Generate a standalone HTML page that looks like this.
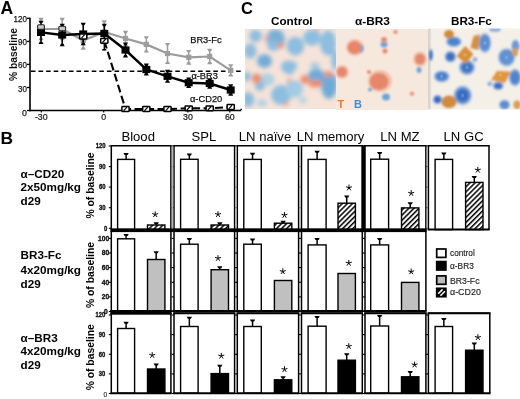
<!DOCTYPE html>
<html><head><meta charset="utf-8"><style>
html,body{margin:0;padding:0;background:#fff;}
body{width:520px;height:399px;overflow:hidden;}
svg{display:block;font-family:"Liberation Sans", sans-serif;will-change:transform;}
</style></head><body>
<svg width="520" height="399" viewBox="0 0 520 399">
<defs>
<pattern id="hatch" patternUnits="userSpaceOnUse" width="3.6" height="3.6" patternTransform="rotate(45)">
<rect width="3.6" height="3.6" fill="#fff"/><rect width="1.5" height="3.6" fill="#000"/></pattern>
<filter id="blurA" x="-20%" y="-20%" width="140%" height="140%"><feGaussianBlur stdDeviation="2"/></filter>
<filter id="blurB" x="-20%" y="-20%" width="140%" height="140%"><feGaussianBlur stdDeviation="1.3"/></filter>
<filter id="blurC" x="-20%" y="-20%" width="140%" height="140%"><feGaussianBlur stdDeviation="1"/></filter>
</defs>
<rect width="520" height="399" fill="#fff"/>
<text x="0.6" y="13.8" font-size="17.5" font-weight="bold">A</text>
<line x1="30" y1="17.8" x2="30" y2="111.2" stroke="#000" stroke-width="1.6"/>
<line x1="27" y1="110.5" x2="30" y2="110.5" stroke="#000" stroke-width="1.3"/>
<text x="26.9" y="116.1" font-size="9.6" text-anchor="end" fill="#111" stroke="#111" stroke-width="0.25" textLength="4.9" lengthAdjust="spacingAndGlyphs">0</text>
<line x1="27" y1="87.5" x2="30" y2="87.5" stroke="#000" stroke-width="1.3"/>
<text x="26.9" y="91.5" font-size="9.4" text-anchor="end" fill="#111" stroke="#111" stroke-width="0.25" textLength="8.9" lengthAdjust="spacingAndGlyphs">30</text>
<line x1="27" y1="64.4" x2="30" y2="64.4" stroke="#000" stroke-width="1.3"/>
<text x="26.9" y="68.4" font-size="9.4" text-anchor="end" fill="#111" stroke="#111" stroke-width="0.25" textLength="8.9" lengthAdjust="spacingAndGlyphs">60</text>
<line x1="27" y1="41.4" x2="30" y2="41.4" stroke="#000" stroke-width="1.3"/>
<text x="26.9" y="45.4" font-size="9.4" text-anchor="end" fill="#111" stroke="#111" stroke-width="0.25" textLength="8.9" lengthAdjust="spacingAndGlyphs">90</text>
<line x1="27" y1="18.3" x2="30" y2="18.3" stroke="#000" stroke-width="1.3"/>
<text x="26.9" y="22.3" font-size="9.4" text-anchor="end" fill="#111" stroke="#111" stroke-width="0.25" textLength="13.4" lengthAdjust="spacingAndGlyphs">120</text>
<text transform="translate(16.5,54.5) rotate(-90)" font-size="10.8" font-weight="bold" text-anchor="middle" fill="#111" textLength="53" lengthAdjust="spacingAndGlyphs">% baseline</text>
<line x1="29.2" y1="110.5" x2="241" y2="110.5" stroke="#000" stroke-width="1.6"/>
<line x1="41.3" y1="110.5" x2="41.3" y2="112.5" stroke="#000" stroke-width="1.2"/>
<text x="41.3" y="119.6" font-size="8.8" text-anchor="middle" fill="#111" stroke="#111" stroke-width="0.2">-30</text>
<line x1="103.7" y1="110.5" x2="103.7" y2="112.5" stroke="#000" stroke-width="1.2"/>
<text x="103.7" y="119.6" font-size="8.8" text-anchor="middle" fill="#111" stroke="#111" stroke-width="0.2">0</text>
<line x1="188" y1="110.5" x2="188" y2="112.5" stroke="#000" stroke-width="1.2"/>
<text x="188" y="119.6" font-size="8.8" text-anchor="middle" fill="#111" stroke="#111" stroke-width="0.2">30</text>
<line x1="229.8" y1="110.5" x2="229.8" y2="112.5" stroke="#000" stroke-width="1.2"/>
<text x="229.8" y="119.6" font-size="8.8" text-anchor="middle" fill="#111" stroke="#111" stroke-width="0.2">60</text>
<line x1="30.9" y1="71.2" x2="241" y2="71.2" stroke="#000" stroke-width="1.6" stroke-dasharray="4.6 3"/>
<polyline points="104.3,40.8 125.5,109 146.3,109 167.5,109 188.7,108.3 209.7,108.3 230.7,107" fill="none" stroke="#000" stroke-width="2.1" stroke-dasharray="8 3.5"/>
<polyline points="41,29 62.2,29 83.2,40.5 104.3,32 125.5,38.5 146.3,44.4 167.5,53.5 188.7,57.3 209.7,56.5 230.7,70.4" fill="none" stroke="#9c9c9c" stroke-width="2.2"/>
<line x1="41" y1="19" x2="41" y2="39" stroke="#9c9c9c" stroke-width="1.5"/>
<path d="M38.4,17.8 H43.6 L42.3,20.2 H39.7 Z" fill="#9c9c9c"/>
<path d="M38.4,40.2 H43.6 L42.3,37.8 H39.7 Z" fill="#9c9c9c"/>
<rect x="38.4" y="26.4" width="5.2" height="5.2" fill="#9c9c9c"/>
<line x1="62.2" y1="19" x2="62.2" y2="39" stroke="#9c9c9c" stroke-width="1.5"/>
<path d="M59.6,17.8 H64.8 L63.5,20.2 H60.900000000000006 Z" fill="#9c9c9c"/>
<path d="M59.6,40.2 H64.8 L63.5,37.8 H60.900000000000006 Z" fill="#9c9c9c"/>
<rect x="59.6" y="26.4" width="5.2" height="5.2" fill="#9c9c9c"/>
<line x1="83.2" y1="32.5" x2="83.2" y2="48.5" stroke="#9c9c9c" stroke-width="1.5"/>
<path d="M80.60000000000001,31.3 H85.8 L84.5,33.7 H81.9 Z" fill="#9c9c9c"/>
<path d="M80.60000000000001,49.7 H85.8 L84.5,47.3 H81.9 Z" fill="#9c9c9c"/>
<rect x="80.60000000000001" y="37.9" width="5.2" height="5.2" fill="#9c9c9c"/>
<line x1="104.3" y1="21.5" x2="104.3" y2="42.5" stroke="#9c9c9c" stroke-width="1.5"/>
<path d="M101.7,20.3 H106.89999999999999 L105.6,22.7 H103.0 Z" fill="#9c9c9c"/>
<path d="M101.7,43.7 H106.89999999999999 L105.6,41.3 H103.0 Z" fill="#9c9c9c"/>
<rect x="101.7" y="29.4" width="5.2" height="5.2" fill="#9c9c9c"/>
<line x1="125.5" y1="32.0" x2="125.5" y2="45.0" stroke="#9c9c9c" stroke-width="1.5"/>
<path d="M122.9,30.8 H128.1 L126.8,33.2 H124.2 Z" fill="#9c9c9c"/>
<path d="M122.9,46.2 H128.1 L126.8,43.8 H124.2 Z" fill="#9c9c9c"/>
<rect x="122.9" y="35.9" width="5.2" height="5.2" fill="#9c9c9c"/>
<line x1="146.3" y1="37.4" x2="146.3" y2="51.4" stroke="#9c9c9c" stroke-width="1.5"/>
<path d="M143.70000000000002,36.199999999999996 H148.9 L147.60000000000002,38.6 H145.0 Z" fill="#9c9c9c"/>
<path d="M143.70000000000002,52.6 H148.9 L147.60000000000002,50.199999999999996 H145.0 Z" fill="#9c9c9c"/>
<rect x="143.70000000000002" y="41.8" width="5.2" height="5.2" fill="#9c9c9c"/>
<line x1="167.5" y1="44.1" x2="167.5" y2="62.9" stroke="#9c9c9c" stroke-width="1.5"/>
<path d="M164.9,42.9 H170.1 L168.8,45.300000000000004 H166.2 Z" fill="#9c9c9c"/>
<path d="M164.9,64.1 H170.1 L168.8,61.699999999999996 H166.2 Z" fill="#9c9c9c"/>
<rect x="164.9" y="50.9" width="5.2" height="5.2" fill="#9c9c9c"/>
<line x1="188.7" y1="51.099999999999994" x2="188.7" y2="63.5" stroke="#9c9c9c" stroke-width="1.5"/>
<path d="M186.1,49.89999999999999 H191.29999999999998 L190.0,52.3 H187.39999999999998 Z" fill="#9c9c9c"/>
<path d="M186.1,64.7 H191.29999999999998 L190.0,62.3 H187.39999999999998 Z" fill="#9c9c9c"/>
<rect x="186.1" y="54.699999999999996" width="5.2" height="5.2" fill="#9c9c9c"/>
<line x1="209.7" y1="50.0" x2="209.7" y2="63.0" stroke="#9c9c9c" stroke-width="1.5"/>
<path d="M207.1,48.8 H212.29999999999998 L211.0,51.2 H208.39999999999998 Z" fill="#9c9c9c"/>
<path d="M207.1,64.2 H212.29999999999998 L211.0,61.8 H208.39999999999998 Z" fill="#9c9c9c"/>
<rect x="207.1" y="53.9" width="5.2" height="5.2" fill="#9c9c9c"/>
<line x1="230.7" y1="65.4" x2="230.7" y2="75.4" stroke="#9c9c9c" stroke-width="1.5"/>
<path d="M228.1,64.2 H233.29999999999998 L232.0,66.60000000000001 H229.39999999999998 Z" fill="#9c9c9c"/>
<path d="M228.1,76.60000000000001 H233.29999999999998 L232.0,74.2 H229.39999999999998 Z" fill="#9c9c9c"/>
<rect x="228.1" y="67.80000000000001" width="5.2" height="5.2" fill="#9c9c9c"/>
<polyline points="41,32.4 62.2,35 83.2,34 104.3,33.5 125.5,50 146.3,69.5 167.5,76.3 188.7,82.7 209.7,83.5 230.7,90" fill="none" stroke="#000" stroke-width="2.4"/>
<line x1="41" y1="21.9" x2="41" y2="42.9" stroke="#000" stroke-width="1.6"/>
<path d="M38.5,20.7 H43.5 L42.3,23.099999999999998 H39.7 Z" fill="#000"/>
<path d="M38.5,44.1 H43.5 L42.3,41.699999999999996 H39.7 Z" fill="#000"/>
<rect x="37" y="28.799999999999997" width="8" height="7.2" fill="#000"/>
<line x1="62.2" y1="25" x2="62.2" y2="45" stroke="#000" stroke-width="1.6"/>
<path d="M59.7,23.8 H64.7 L63.5,26.2 H60.900000000000006 Z" fill="#000"/>
<path d="M59.7,46.2 H64.7 L63.5,43.8 H60.900000000000006 Z" fill="#000"/>
<rect x="58.2" y="31.4" width="8" height="7.2" fill="#000"/>
<line x1="83.2" y1="24" x2="83.2" y2="44" stroke="#000" stroke-width="1.6"/>
<path d="M80.7,22.8 H85.7 L84.5,25.2 H81.9 Z" fill="#000"/>
<path d="M80.7,45.2 H85.7 L84.5,42.8 H81.9 Z" fill="#000"/>
<rect x="79.2" y="30.4" width="8" height="7.2" fill="#000"/>
<line x1="104.3" y1="25.0" x2="104.3" y2="42.0" stroke="#000" stroke-width="1.6"/>
<path d="M101.8,23.8 H106.8 L105.6,26.2 H103.0 Z" fill="#000"/>
<path d="M101.8,43.2 H106.8 L105.6,40.8 H103.0 Z" fill="#000"/>
<rect x="100.3" y="29.9" width="8" height="7.2" fill="#000"/>
<line x1="125.5" y1="43.7" x2="125.5" y2="56.3" stroke="#000" stroke-width="1.6"/>
<path d="M123.0,42.5 H128.0 L126.8,44.900000000000006 H124.2 Z" fill="#000"/>
<path d="M123.0,57.5 H128.0 L126.8,55.099999999999994 H124.2 Z" fill="#000"/>
<rect x="121.5" y="46.4" width="8" height="7.2" fill="#000"/>
<line x1="146.3" y1="64.8" x2="146.3" y2="74.2" stroke="#000" stroke-width="1.6"/>
<path d="M143.8,63.599999999999994 H148.8 L147.60000000000002,66.0 H145.0 Z" fill="#000"/>
<path d="M143.8,75.4 H148.8 L147.60000000000002,73.0 H145.0 Z" fill="#000"/>
<rect x="142.3" y="65.9" width="8" height="7.2" fill="#000"/>
<line x1="167.5" y1="71.0" x2="167.5" y2="81.6" stroke="#000" stroke-width="1.6"/>
<path d="M165.0,69.8 H170.0 L168.8,72.2 H166.2 Z" fill="#000"/>
<path d="M165.0,82.8 H170.0 L168.8,80.39999999999999 H166.2 Z" fill="#000"/>
<rect x="163.5" y="72.7" width="8" height="7.2" fill="#000"/>
<line x1="188.7" y1="78.7" x2="188.7" y2="86.7" stroke="#000" stroke-width="1.6"/>
<path d="M186.2,77.5 H191.2 L190.0,79.9 H187.39999999999998 Z" fill="#000"/>
<path d="M186.2,87.9 H191.2 L190.0,85.5 H187.39999999999998 Z" fill="#000"/>
<rect x="184.7" y="79.10000000000001" width="8" height="7.2" fill="#000"/>
<line x1="209.7" y1="79.5" x2="209.7" y2="87.5" stroke="#000" stroke-width="1.6"/>
<path d="M207.2,78.3 H212.2 L211.0,80.7 H208.39999999999998 Z" fill="#000"/>
<path d="M207.2,88.7 H212.2 L211.0,86.3 H208.39999999999998 Z" fill="#000"/>
<rect x="205.7" y="79.9" width="8" height="7.2" fill="#000"/>
<line x1="230.7" y1="85.5" x2="230.7" y2="94.5" stroke="#000" stroke-width="1.6"/>
<path d="M228.2,84.3 H233.2 L232.0,86.7 H229.39999999999998 Z" fill="#000"/>
<path d="M228.2,95.7 H233.2 L232.0,93.3 H229.39999999999998 Z" fill="#000"/>
<rect x="226.7" y="86.4" width="8" height="7.2" fill="#000"/>
<rect x="37.6" y="24.8" width="6.8" height="4.4" rx="1.2" fill="#c8c8c8" stroke="#222" stroke-width="1.1"/>
<rect x="58.800000000000004" y="26.3" width="6.8" height="4.4" rx="1.2" fill="#c8c8c8" stroke="#222" stroke-width="1.1"/>
<rect x="79.60000000000001" y="34.1" width="7.2" height="4.8" rx="0.6" fill="#fff" stroke="#000" stroke-width="1.5"/>
<line x1="81.3" y1="38.3" x2="84.60000000000001" y2="34.7" stroke="#000" stroke-width="1.2"/>
<line x1="104.3" y1="40.8" x2="104.3" y2="49.8" stroke="#000" stroke-width="1.4"/>
<line x1="102.3" y1="49.8" x2="106.3" y2="49.8" stroke="#000" stroke-width="1.6"/>
<rect x="100.7" y="38.4" width="7.2" height="4.8" rx="0.6" fill="#fff" stroke="#000" stroke-width="1.5"/>
<line x1="102.39999999999999" y1="42.599999999999994" x2="105.7" y2="39.0" stroke="#000" stroke-width="1.2"/>
<rect x="121.9" y="106.6" width="7.2" height="4.8" rx="0.6" fill="#fff" stroke="#000" stroke-width="1.5"/>
<line x1="123.6" y1="110.8" x2="126.9" y2="107.2" stroke="#000" stroke-width="1.2"/>
<rect x="142.70000000000002" y="106.6" width="7.2" height="4.8" rx="0.6" fill="#fff" stroke="#000" stroke-width="1.5"/>
<line x1="144.4" y1="110.8" x2="147.70000000000002" y2="107.2" stroke="#000" stroke-width="1.2"/>
<rect x="163.9" y="106.6" width="7.2" height="4.8" rx="0.6" fill="#fff" stroke="#000" stroke-width="1.5"/>
<line x1="165.6" y1="110.8" x2="168.9" y2="107.2" stroke="#000" stroke-width="1.2"/>
<rect x="185.1" y="105.89999999999999" width="7.2" height="4.8" rx="0.6" fill="#fff" stroke="#000" stroke-width="1.5"/>
<line x1="186.79999999999998" y1="110.1" x2="190.1" y2="106.5" stroke="#000" stroke-width="1.2"/>
<rect x="206.1" y="105.89999999999999" width="7.2" height="4.8" rx="0.6" fill="#fff" stroke="#000" stroke-width="1.5"/>
<line x1="207.79999999999998" y1="110.1" x2="211.1" y2="106.5" stroke="#000" stroke-width="1.2"/>
<rect x="227.1" y="104.6" width="7.2" height="4.8" rx="0.6" fill="#fff" stroke="#000" stroke-width="1.5"/>
<line x1="228.79999999999998" y1="108.8" x2="232.1" y2="105.2" stroke="#000" stroke-width="1.2"/>
<text x="190.2" y="43.3" font-size="9.3" fill="#111" stroke="#111" stroke-width="0.25">BR3-Fc</text>
<text x="191.4" y="79.2" font-size="9.3" fill="#111" stroke="#111" stroke-width="0.25">α-BR3</text>
<text x="190" y="102.3" font-size="9.3" fill="#111" stroke="#111" stroke-width="0.25">α-CD20</text>
<circle cx="241.2" cy="109.4" r="0.9" fill="#222"/>
<text x="241" y="14.2" font-size="16.5" font-weight="bold">C</text>
<text x="291.8" y="25" font-size="11.7" font-weight="bold" text-anchor="middle">Control</text>
<text x="372.4" y="25" font-size="11.7" font-weight="bold" text-anchor="middle" textLength="35" lengthAdjust="spacingAndGlyphs">α-BR3</text>
<text x="471.4" y="25" font-size="11.7" font-weight="bold" text-anchor="middle">BR3-Fc</text>
<svg x="245" y="29" width="90.5" height="80" viewBox="245 29 90.5 80" overflow="hidden">
<rect x="245" y="29" width="91" height="80" fill="#f6e3d9"/>
<g filter="url(#blurA)">
<ellipse cx="255.6" cy="36" rx="6.25" ry="6.25" fill="#8cbee0" opacity="1"/>
<ellipse cx="275.6" cy="39" rx="9.375" ry="10.0" fill="#79b0d8" opacity="1"/>
<ellipse cx="273.5" cy="46" rx="6.25" ry="5.0" fill="#8cbee0" opacity="1"/>
<ellipse cx="250.3" cy="51" rx="6.25" ry="7.5" fill="#8cbee0" opacity="1"/>
<ellipse cx="264.5" cy="61" rx="7.5" ry="6.875" fill="#72acd8" opacity="1"/>
<ellipse cx="287.5" cy="67" rx="6.5" ry="6.5" fill="#8cbee0" opacity="1"/>
<ellipse cx="295.4" cy="46" rx="8.75" ry="9.375" fill="#8cbee0" opacity="1"/>
<ellipse cx="312" cy="37.5" rx="8.75" ry="8.125" fill="#8cbee0" opacity="1"/>
<ellipse cx="328" cy="43" rx="8.125" ry="12.5" fill="#8cbee0" opacity="1"/>
<ellipse cx="292" cy="66" rx="5.0" ry="5.0" fill="#8cbee0" opacity="1"/>
<ellipse cx="315" cy="66" rx="5.0" ry="3.75" fill="#a9cde2" opacity="1"/>
<ellipse cx="247" cy="76.4" rx="3.75" ry="5.0" fill="#8cbee0" opacity="1"/>
<ellipse cx="267" cy="79.6" rx="7.5" ry="6.25" fill="#acd0e4" opacity="1"/>
<ellipse cx="259.8" cy="86" rx="5.0" ry="5.0" fill="#8cbee0" opacity="1"/>
<ellipse cx="248" cy="99.6" rx="6.25" ry="7.5" fill="#8cbee0" opacity="1"/>
<ellipse cx="281" cy="95" rx="10.0" ry="10.0" fill="#8cbee0" opacity="1"/>
<ellipse cx="289" cy="89" rx="3.75" ry="3.75" fill="#8cbee0" opacity="1"/>
<ellipse cx="316.4" cy="76.4" rx="8.75" ry="7.5" fill="#6eaad8" opacity="1"/>
<ellipse cx="329" cy="85" rx="8.125" ry="13.75" fill="#6eaad8" opacity="1"/>
<ellipse cx="294.3" cy="89" rx="8.75" ry="8.75" fill="#a3cbe3" opacity="1"/>
<ellipse cx="290" cy="71" rx="3.75" ry="3.75" fill="#8cbee0" opacity="1"/>
<ellipse cx="335" cy="60" rx="3.75" ry="10.0" fill="#8cbee0" opacity="1"/>
<ellipse cx="303" cy="100" rx="3.75" ry="3.75" fill="#b5d5e6" opacity="1"/>
<ellipse cx="262" cy="103" rx="5.0" ry="3.75" fill="#b0d2e6" opacity="1"/>
<ellipse cx="281" cy="45.5" rx="3" ry="3" fill="#eb8f68" opacity="1"/>
<ellipse cx="266" cy="38.5" rx="2" ry="3" fill="#efaa95" opacity="1"/>
<ellipse cx="317.5" cy="30" rx="2" ry="1.5" fill="#eb8f68" opacity="1"/>
<ellipse cx="256.6" cy="78.5" rx="5" ry="5" fill="#eb8f68" opacity="1"/>
<ellipse cx="289" cy="80.6" rx="2" ry="2" fill="#eb8f68" opacity="1"/>
<ellipse cx="286" cy="104" rx="2" ry="2" fill="#eb8f68" opacity="1"/>
<ellipse cx="304.8" cy="79.6" rx="4.5" ry="4.5" fill="#eb8f68" opacity="1"/>
<ellipse cx="315.4" cy="83.8" rx="7" ry="3.8" fill="#eb8f68" opacity="1"/>
<ellipse cx="328" cy="74.3" rx="4" ry="3" fill="#eb8f68" opacity="1"/>
</g></svg>
<svg x="336" y="29" width="92" height="80.5" viewBox="336 29 92 80.5" overflow="hidden">
<rect x="336" y="29" width="92" height="81" fill="#f7e8de"/>
<g filter="url(#blurB)">
<ellipse cx="355" cy="47.5" rx="9" ry="8.5" fill="#f1c2ac" opacity="1"/>
<ellipse cx="380" cy="81" rx="12" ry="11" fill="#f1c2ac" opacity="1"/>
<ellipse cx="342" cy="72" rx="7" ry="7" fill="#f1c2ac" opacity="1"/>
<ellipse cx="420" cy="59" rx="7" ry="7.5" fill="#f1c2ac" opacity="1"/>
<ellipse cx="360.6" cy="48.5" rx="3" ry="4" fill="#6aa6d8" opacity="1"/>
<ellipse cx="384" cy="44.4" rx="3.5" ry="3" fill="#6aa6d8" opacity="1"/>
<ellipse cx="419" cy="70" rx="2.5" ry="3" fill="#6aa6d8" opacity="1"/>
<ellipse cx="370" cy="89.6" rx="2" ry="2" fill="#6aa6d8" opacity="1"/>
<ellipse cx="386" cy="97" rx="4" ry="3.5" fill="#6aa6d8" opacity="1"/>
<ellipse cx="354.5" cy="47.5" rx="7" ry="6.5" fill="#e6866a" opacity="1"/>
<ellipse cx="384" cy="39.5" rx="3" ry="2.5" fill="#e6866a" opacity="1"/>
<ellipse cx="385" cy="51" rx="2.5" ry="2.5" fill="#e6866a" opacity="1"/>
<ellipse cx="395.5" cy="32" rx="2" ry="2" fill="#e6866a" opacity="1"/>
<ellipse cx="420" cy="59" rx="5" ry="5.5" fill="#e6866a" opacity="1"/>
<ellipse cx="342" cy="72" rx="5" ry="5" fill="#e6866a" opacity="1"/>
<ellipse cx="379" cy="81.4" rx="9.5" ry="8.5" fill="#e6866a" opacity="1"/>
<ellipse cx="412" cy="93.7" rx="2" ry="2" fill="#e6866a" opacity="1"/>
<ellipse cx="369" cy="72" rx="2" ry="2" fill="#e6866a" opacity="1"/>
</g>
<text x="337.6" y="108" font-size="11" font-weight="bold" fill="#ea7a30">T</text>
<text x="354" y="108" font-size="11" font-weight="bold" fill="#3b8ed6">B</text>
</svg>
<svg x="428" y="28.5" width="92" height="81" viewBox="428 28.5 92 81" overflow="hidden">
<rect x="428" y="28" width="92" height="82" fill="#f4efe7"/>
<rect x="428" y="28" width="2.2" height="82" fill="#c9c4bc" filter="url(#blurC)"/>
<g filter="url(#blurC)">
<ellipse cx="453.8" cy="41.7" rx="8.16" ry="5.3999999999999995" fill="#b3c8e6" opacity="1"/>
<ellipse cx="450.4" cy="56.7" rx="6.0" ry="6.0" fill="#b3c8e6" opacity="1"/>
<ellipse cx="430.8" cy="55" rx="2.4" ry="6.6" fill="#b3c8e6" opacity="1"/>
<ellipse cx="484.8" cy="43" rx="6.6" ry="10.2" fill="#b3c8e6" opacity="1"/>
<ellipse cx="506.6" cy="57.3" rx="8.88" ry="9.36" fill="#b3c8e6" opacity="1"/>
<ellipse cx="515.5" cy="46" rx="4.2" ry="6.6" fill="#b3c8e6" opacity="1"/>
<ellipse cx="467" cy="67.5" rx="8.4" ry="7.8" fill="#b3c8e6" opacity="1"/>
<ellipse cx="441.7" cy="76.4" rx="8.16" ry="6.0" fill="#b3c8e6" opacity="1"/>
<ellipse cx="462.7" cy="95.4" rx="9.48" ry="10.08" fill="#b3c8e6" opacity="1"/>
<ellipse cx="437.5" cy="99.6" rx="4.8" ry="4.8" fill="#b3c8e6" opacity="1"/>
<ellipse cx="498.2" cy="85.9" rx="5.64" ry="4.44" fill="#b3c8e6" opacity="1"/>
<ellipse cx="515" cy="77.5" rx="6.359999999999999" ry="8.88" fill="#b3c8e6" opacity="1"/>
<ellipse cx="504.5" cy="104.8" rx="5.64" ry="5.04" fill="#b3c8e6" opacity="1"/>
<ellipse cx="495" cy="29.5" rx="6.0" ry="2.4" fill="#b3c8e6" opacity="1"/>
<ellipse cx="489.8" cy="83.8" rx="2.4" ry="2.4" fill="#b3c8e6" opacity="1"/>
<ellipse cx="475" cy="59.6" rx="2.4" ry="2.4" fill="#b3c8e6" opacity="1"/>
<ellipse cx="453.8" cy="41.7" rx="6.8" ry="4.5" fill="#5f8fd2" opacity="1"/>
<ellipse cx="450.4" cy="56.7" rx="5.0" ry="5.0" fill="#5f8fd2" opacity="1"/>
<ellipse cx="430.8" cy="55" rx="2.0" ry="5.5" fill="#5f8fd2" opacity="1"/>
<ellipse cx="484.8" cy="43" rx="5.5" ry="8.5" fill="#5f8fd2" opacity="1"/>
<ellipse cx="506.6" cy="57.3" rx="7.4" ry="7.8" fill="#5f8fd2" opacity="1"/>
<ellipse cx="515.5" cy="46" rx="3.5" ry="5.5" fill="#5f8fd2" opacity="1"/>
<ellipse cx="467" cy="67.5" rx="7.0" ry="6.5" fill="#5f8fd2" opacity="1"/>
<ellipse cx="441.7" cy="76.4" rx="6.8" ry="5.0" fill="#5f8fd2" opacity="1"/>
<ellipse cx="462.7" cy="95.4" rx="7.9" ry="8.4" fill="#5f8fd2" opacity="1"/>
<ellipse cx="437.5" cy="99.6" rx="4.0" ry="4.0" fill="#5f8fd2" opacity="1"/>
<ellipse cx="498.2" cy="85.9" rx="4.7" ry="3.7" fill="#5f8fd2" opacity="1"/>
<ellipse cx="515" cy="77.5" rx="5.3" ry="7.4" fill="#5f8fd2" opacity="1"/>
<ellipse cx="504.5" cy="104.8" rx="4.7" ry="4.2" fill="#5f8fd2" opacity="1"/>
<ellipse cx="495" cy="29.5" rx="5.0" ry="2.0" fill="#5f8fd2" opacity="1"/>
<ellipse cx="489.8" cy="83.8" rx="2.0" ry="2.0" fill="#5f8fd2" opacity="1"/>
<ellipse cx="475" cy="59.6" rx="2.0" ry="2.0" fill="#5f8fd2" opacity="1"/>
<ellipse cx="453.8" cy="41.7" rx="4.896" ry="3.2399999999999998" fill="#4a82cc" opacity="1"/>
<ellipse cx="450.4" cy="56.7" rx="3.5999999999999996" ry="3.5999999999999996" fill="#3a6fc0" opacity="1"/>
<ellipse cx="430.8" cy="55" rx="1.44" ry="3.96" fill="#4070c0" opacity="1"/>
<ellipse cx="484.8" cy="43" rx="3.96" ry="6.12" fill="#5a8fd0" opacity="1"/>
<ellipse cx="506.6" cy="57.3" rx="5.328" ry="5.616" fill="#5f93d4" opacity="1"/>
<ellipse cx="515.5" cy="46" rx="2.52" ry="3.96" fill="#6a9ad4" opacity="1"/>
<ellipse cx="467" cy="67.5" rx="5.04" ry="4.68" fill="#3e73c4" opacity="1"/>
<ellipse cx="441.7" cy="76.4" rx="4.896" ry="3.5999999999999996" fill="#4a80c8" opacity="1"/>
<ellipse cx="462.7" cy="95.4" rx="5.688" ry="6.048" fill="#3a6cc0" opacity="1"/>
<ellipse cx="437.5" cy="99.6" rx="2.88" ry="2.88" fill="#3865b8" opacity="1"/>
<ellipse cx="498.2" cy="85.9" rx="3.384" ry="2.664" fill="#3a6cc0" opacity="1"/>
<ellipse cx="515" cy="77.5" rx="3.816" ry="5.328" fill="#4d84cc" opacity="1"/>
<ellipse cx="504.5" cy="104.8" rx="3.384" ry="3.024" fill="#5a8ed0" opacity="1"/>
<ellipse cx="495" cy="29.5" rx="3.5999999999999996" ry="1.44" fill="#9ab8e0" opacity="1"/>
<ellipse cx="489.8" cy="83.8" rx="1.44" ry="1.44" fill="#9ab8e0" opacity="1"/>
<ellipse cx="475" cy="59.6" rx="1.44" ry="1.44" fill="#9ab8e0" opacity="1"/>
<ellipse cx="449" cy="34.3" rx="5" ry="4.2" fill="#d08a38" opacity="1"/>
<ellipse cx="515" cy="52.2" rx="3" ry="4.2" fill="#d8a050" opacity="1"/>
<ellipse cx="449" cy="101.7" rx="7.5" ry="6.3" fill="#d08a3c" opacity="1"/>
<ellipse cx="517" cy="104.8" rx="3.5" ry="4.2" fill="#e09a50" opacity="1"/>
<polygon points="465,46 473.5,54 466,64 456.5,56" fill="#d8903a"/>
<polygon points="491,80 497,71 511,71.5 505,83" fill="#e0963e"/>
<polygon points="470.5,48 473.5,36 480,34.5 478.5,50" fill="#d49040"/>
</g>
<circle cx="462.7" cy="95.4" r="0.9" fill="#eef3fa" filter="url(#blurC)"/>
<circle cx="441.7" cy="76.4" r="0.9" fill="#eef3fa" filter="url(#blurC)"/>
<circle cx="467" cy="67.5" r="0.9" fill="#eef3fa" filter="url(#blurC)"/>
<circle cx="484.8" cy="43" r="0.9" fill="#eef3fa" filter="url(#blurC)"/>
<circle cx="506.6" cy="57.3" r="0.9" fill="#eef3fa" filter="url(#blurC)"/>
<circle cx="465" cy="55" r="0.9" fill="#eef3fa" filter="url(#blurC)"/>
<circle cx="500.3" cy="75" r="0.9" fill="#eef3fa" filter="url(#blurC)"/>
</svg>
<text x="0.6" y="143.8" font-size="17.4" font-weight="bold">B</text>
<text x="138.2" y="140.9" font-size="13.1" text-anchor="middle">Blood</text>
<text x="203.9" y="140.9" font-size="13.1" text-anchor="middle">SPL</text>
<text x="265.0" y="140.9" font-size="13.1" text-anchor="middle">LN naïve</text>
<text x="330.6" y="140.9" font-size="13.1" text-anchor="middle">LN memory</text>
<text x="399.9" y="140.9" font-size="13.1" text-anchor="middle">LN MZ</text>
<text x="463.6" y="140.9" font-size="13.1" text-anchor="middle">LN GC</text>
<text x="20.6" y="177.6" font-size="11.7" font-weight="bold">α–CD20</text>
<text x="20.6" y="191.2" font-size="11.7" font-weight="bold">2x50mg/kg</text>
<text x="20.6" y="204.79999999999998" font-size="11.7" font-weight="bold">d29</text>
<text x="20.6" y="259.2" font-size="11.7" font-weight="bold">BR3-Fc</text>
<text x="20.6" y="273.59999999999997" font-size="11.7" font-weight="bold">4x20mg/kg</text>
<text x="20.6" y="288.0" font-size="11.7" font-weight="bold">d29</text>
<text x="20.6" y="341.7" font-size="11.7" font-weight="bold">α–BR3</text>
<text x="20.6" y="355.3" font-size="11.7" font-weight="bold">4x20mg/kg</text>
<text x="20.6" y="368.9" font-size="11.7" font-weight="bold">d29</text>
<line x1="126.10" y1="159.4" x2="126.10" y2="153.8" stroke="#000" stroke-width="1.5"/>
<path d="M123.50,152.9 H128.70 L127.70,154.9 H124.50 Z" fill="#000"/>
<rect x="117.6" y="159.4" width="17.0" height="70.2" fill="#fff" stroke="#000" stroke-width="1.4"/>
<line x1="156.20" y1="225.0" x2="156.20" y2="223.2" stroke="#000" stroke-width="1.5"/>
<path d="M153.60,222.29999999999998 H158.80 L157.80,224.29999999999998 H154.60 Z" fill="#000"/>
<rect x="147.5" y="225.0" width="17.4" height="4.6" fill="url(#hatch)" stroke="#000" stroke-width="1.4"/>
<path d="M155.20,214.50L155.20,211.40M155.20,214.50L158.15,213.54M155.20,214.50L157.02,217.01M155.20,214.50L153.38,217.01M155.20,214.50L152.25,213.54" stroke="#000" stroke-width="1.0" stroke-linecap="butt" fill="none"/>
<path d="M111.3,229.6 V145.7 H170.9 V229.6" fill="none" stroke="#000" stroke-width="1.5"/>
<line x1="108.8" y1="228.3" x2="111.3" y2="228.3" stroke="#000" stroke-width="1.1"/>
<line x1="108.8" y1="207.7" x2="111.3" y2="207.7" stroke="#000" stroke-width="1.1"/>
<line x1="108.8" y1="187.1" x2="111.3" y2="187.1" stroke="#000" stroke-width="1.1"/>
<line x1="108.8" y1="166.6" x2="111.3" y2="166.6" stroke="#000" stroke-width="1.1"/>
<line x1="108.8" y1="146.0" x2="111.3" y2="146.0" stroke="#000" stroke-width="1.1"/>
<line x1="110.6" y1="229.6" x2="171.6" y2="229.6" stroke="#000" stroke-width="2"/>
<line x1="189.35" y1="159.3" x2="189.35" y2="154.5" stroke="#000" stroke-width="1.5"/>
<path d="M186.75,153.6 H191.95 L190.95,155.6 H187.75 Z" fill="#000"/>
<rect x="180.6" y="159.3" width="17.5" height="70.3" fill="#fff" stroke="#000" stroke-width="1.4"/>
<line x1="219.80" y1="225.0" x2="219.80" y2="223.2" stroke="#000" stroke-width="1.5"/>
<path d="M217.20,222.29999999999998 H222.40 L221.40,224.29999999999998 H218.20 Z" fill="#000"/>
<rect x="211.1" y="225.0" width="17.4" height="4.6" fill="url(#hatch)" stroke="#000" stroke-width="1.4"/>
<path d="M218.00,214.40L218.00,211.30M218.00,214.40L220.95,213.44M218.00,214.40L219.82,216.91M218.00,214.40L216.18,216.91M218.00,214.40L215.05,213.44" stroke="#000" stroke-width="1.0" stroke-linecap="butt" fill="none"/>
<path d="M174.0,229.6 V145.7 H234.6 V229.6" fill="none" stroke="#000" stroke-width="1.5"/>
<line x1="171.5" y1="228.3" x2="174.0" y2="228.3" stroke="#000" stroke-width="1.1"/>
<line x1="171.5" y1="207.7" x2="174.0" y2="207.7" stroke="#000" stroke-width="1.1"/>
<line x1="171.5" y1="187.1" x2="174.0" y2="187.1" stroke="#000" stroke-width="1.1"/>
<line x1="171.5" y1="166.6" x2="174.0" y2="166.6" stroke="#000" stroke-width="1.1"/>
<line x1="171.5" y1="146.0" x2="174.0" y2="146.0" stroke="#000" stroke-width="1.1"/>
<line x1="173.3" y1="229.6" x2="235.29999999999998" y2="229.6" stroke="#000" stroke-width="2"/>
<line x1="252.55" y1="159.4" x2="252.55" y2="153.6" stroke="#000" stroke-width="1.5"/>
<path d="M249.95,152.7 H255.15 L254.15,154.7 H250.95 Z" fill="#000"/>
<rect x="243.8" y="159.4" width="17.5" height="70.2" fill="#fff" stroke="#000" stroke-width="1.4"/>
<line x1="283.10" y1="223.2" x2="283.10" y2="221.6" stroke="#000" stroke-width="1.5"/>
<path d="M280.50,220.7 H285.70 L284.70,222.7 H281.50 Z" fill="#000"/>
<rect x="274.4" y="223.2" width="17.4" height="6.4" fill="url(#hatch)" stroke="#000" stroke-width="1.4"/>
<path d="M284.50,215.20L284.50,212.10M284.50,215.20L287.45,214.24M284.50,215.20L286.32,217.71M284.50,215.20L282.68,217.71M284.50,215.20L281.55,214.24" stroke="#000" stroke-width="1.0" stroke-linecap="butt" fill="none"/>
<path d="M237.3,229.6 V145.7 H298.6 V229.6" fill="none" stroke="#000" stroke-width="1.5"/>
<line x1="234.8" y1="228.3" x2="237.3" y2="228.3" stroke="#000" stroke-width="1.1"/>
<line x1="234.8" y1="207.7" x2="237.3" y2="207.7" stroke="#000" stroke-width="1.1"/>
<line x1="234.8" y1="187.1" x2="237.3" y2="187.1" stroke="#000" stroke-width="1.1"/>
<line x1="234.8" y1="166.6" x2="237.3" y2="166.6" stroke="#000" stroke-width="1.1"/>
<line x1="234.8" y1="146.0" x2="237.3" y2="146.0" stroke="#000" stroke-width="1.1"/>
<line x1="236.60000000000002" y1="229.6" x2="299.3" y2="229.6" stroke="#000" stroke-width="2"/>
<line x1="317.10" y1="159.4" x2="317.10" y2="151.7" stroke="#000" stroke-width="1.5"/>
<path d="M314.50,150.79999999999998 H319.70 L318.70,152.79999999999998 H315.50 Z" fill="#000"/>
<rect x="308.1" y="159.4" width="18.0" height="70.2" fill="#fff" stroke="#000" stroke-width="1.4"/>
<line x1="346.70" y1="203.2" x2="346.70" y2="196.3" stroke="#000" stroke-width="1.5"/>
<path d="M344.10,195.4 H349.30 L348.30,197.4 H345.10 Z" fill="#000"/>
<rect x="338.0" y="203.2" width="17.4" height="26.4" fill="url(#hatch)" stroke="#000" stroke-width="1.4"/>
<path d="M349.00,187.70L349.00,184.60M349.00,187.70L351.95,186.74M349.00,187.70L350.82,190.21M349.00,187.70L347.18,190.21M349.00,187.70L346.05,186.74" stroke="#000" stroke-width="1.0" stroke-linecap="butt" fill="none"/>
<path d="M301.5,229.6 V145.7 H362.3 V229.6" fill="none" stroke="#000" stroke-width="1.5"/>
<line x1="299.0" y1="228.3" x2="301.5" y2="228.3" stroke="#000" stroke-width="1.1"/>
<line x1="299.0" y1="207.7" x2="301.5" y2="207.7" stroke="#000" stroke-width="1.1"/>
<line x1="299.0" y1="187.1" x2="301.5" y2="187.1" stroke="#000" stroke-width="1.1"/>
<line x1="299.0" y1="166.6" x2="301.5" y2="166.6" stroke="#000" stroke-width="1.1"/>
<line x1="299.0" y1="146.0" x2="301.5" y2="146.0" stroke="#000" stroke-width="1.1"/>
<line x1="300.8" y1="229.6" x2="363.0" y2="229.6" stroke="#000" stroke-width="2"/>
<line x1="379.65" y1="159.2" x2="379.65" y2="153.0" stroke="#000" stroke-width="1.5"/>
<path d="M377.05,152.1 H382.25 L381.25,154.1 H378.05 Z" fill="#000"/>
<rect x="370.7" y="159.2" width="17.9" height="70.4" fill="#fff" stroke="#000" stroke-width="1.4"/>
<line x1="410.20" y1="207.9" x2="410.20" y2="203.2" stroke="#000" stroke-width="1.5"/>
<path d="M407.60,202.29999999999998 H412.80 L411.80,204.29999999999998 H408.60 Z" fill="#000"/>
<rect x="401.5" y="207.9" width="17.4" height="21.7" fill="url(#hatch)" stroke="#000" stroke-width="1.4"/>
<path d="M411.20,193.30L411.20,190.20M411.20,193.30L414.15,192.34M411.20,193.30L413.02,195.81M411.20,193.30L409.38,195.81M411.20,193.30L408.25,192.34" stroke="#000" stroke-width="1.0" stroke-linecap="butt" fill="none"/>
<path d="M365.0,229.6 V145.7 H425.9 V229.6" fill="none" stroke="#000" stroke-width="1.5"/>
<line x1="362.5" y1="228.3" x2="365.0" y2="228.3" stroke="#000" stroke-width="1.1"/>
<line x1="362.5" y1="207.7" x2="365.0" y2="207.7" stroke="#000" stroke-width="1.1"/>
<line x1="362.5" y1="187.1" x2="365.0" y2="187.1" stroke="#000" stroke-width="1.1"/>
<line x1="362.5" y1="166.6" x2="365.0" y2="166.6" stroke="#000" stroke-width="1.1"/>
<line x1="362.5" y1="146.0" x2="365.0" y2="146.0" stroke="#000" stroke-width="1.1"/>
<line x1="364.3" y1="229.6" x2="426.59999999999997" y2="229.6" stroke="#000" stroke-width="2"/>
<line x1="443.85" y1="159.4" x2="443.85" y2="153.4" stroke="#000" stroke-width="1.5"/>
<path d="M441.25,152.5 H446.45 L445.45,154.5 H442.25 Z" fill="#000"/>
<rect x="435.1" y="159.4" width="17.5" height="70.2" fill="#fff" stroke="#000" stroke-width="1.4"/>
<line x1="474.30" y1="182.4" x2="474.30" y2="177.0" stroke="#000" stroke-width="1.5"/>
<path d="M471.70,176.1 H476.90 L475.90,178.1 H472.70 Z" fill="#000"/>
<rect x="465.6" y="182.4" width="17.4" height="47.2" fill="url(#hatch)" stroke="#000" stroke-width="1.4"/>
<path d="M477.80,170.00L477.80,166.90M477.80,170.00L480.75,169.04M477.80,170.00L479.62,172.51M477.80,170.00L475.98,172.51M477.80,170.00L474.85,169.04" stroke="#000" stroke-width="1.0" stroke-linecap="butt" fill="none"/>
<path d="M428.4,229.6 V145.7 H489.0 V229.6" fill="none" stroke="#000" stroke-width="1.5"/>
<line x1="425.9" y1="228.3" x2="428.4" y2="228.3" stroke="#000" stroke-width="1.1"/>
<line x1="425.9" y1="207.7" x2="428.4" y2="207.7" stroke="#000" stroke-width="1.1"/>
<line x1="425.9" y1="187.1" x2="428.4" y2="187.1" stroke="#000" stroke-width="1.1"/>
<line x1="425.9" y1="166.6" x2="428.4" y2="166.6" stroke="#000" stroke-width="1.1"/>
<line x1="425.9" y1="146.0" x2="428.4" y2="146.0" stroke="#000" stroke-width="1.1"/>
<line x1="427.7" y1="229.6" x2="489.7" y2="229.6" stroke="#000" stroke-width="2"/>
<rect x="171.65" y="146.5" width="1.60" height="82.3" fill="#b4b4b4"/>
<rect x="235.35" y="146.5" width="1.20" height="82.3" fill="#b4b4b4"/>
<rect x="299.35" y="146.5" width="1.40" height="82.3" fill="#b4b4b4"/>
<rect x="363.05" y="146.5" width="1.20" height="82.3" fill="#b4b4b4"/>
<rect x="426.65" y="146.5" width="1.00" height="82.3" fill="#b4b4b4"/>
<rect x="361.6" y="145.7" width="3.4" height="83.9" fill="#000"/>
<rect x="110.5" y="228.7" width="316" height="3.4" fill="#000"/>
<text x="107.19999999999999" y="230.6" font-size="7.5" font-weight="bold" text-anchor="end" fill="#111" stroke="#111" stroke-width="0.35" textLength="3.3" lengthAdjust="spacingAndGlyphs">0</text>
<text x="105.6" y="210.0" font-size="7.5" font-weight="bold" text-anchor="end" fill="#111" stroke="#111" stroke-width="0.35" textLength="6.6" lengthAdjust="spacingAndGlyphs">30</text>
<text x="105.6" y="189.4" font-size="7.5" font-weight="bold" text-anchor="end" fill="#111" stroke="#111" stroke-width="0.35" textLength="6.6" lengthAdjust="spacingAndGlyphs">60</text>
<text x="105.6" y="168.9" font-size="7.5" font-weight="bold" text-anchor="end" fill="#111" stroke="#111" stroke-width="0.35" textLength="6.6" lengthAdjust="spacingAndGlyphs">90</text>
<text x="105.6" y="148.3" font-size="7.5" font-weight="bold" text-anchor="end" fill="#111" stroke="#111" stroke-width="0.35" textLength="9.9" lengthAdjust="spacingAndGlyphs">120</text>
<text transform="translate(94.3,185.5) rotate(-90)" font-size="11.4" font-weight="bold" text-anchor="middle" textLength="66" lengthAdjust="spacingAndGlyphs">% of baseline</text>
<line x1="126.10" y1="238.8" x2="126.10" y2="235.0" stroke="#000" stroke-width="1.5"/>
<path d="M123.50,234.1 H128.70 L127.70,236.1 H124.50 Z" fill="#000"/>
<rect x="117.6" y="238.8" width="17.0" height="72.2" fill="#fff" stroke="#000" stroke-width="1.4"/>
<line x1="156.20" y1="259.5" x2="156.20" y2="252.2" stroke="#000" stroke-width="1.5"/>
<path d="M153.60,251.29999999999998 H158.80 L157.80,253.29999999999998 H154.60 Z" fill="#000"/>
<rect x="147.5" y="259.5" width="17.4" height="51.5" fill="#c0c0c0" stroke="#000" stroke-width="1.4"/>
<path d="M111.3,311.0 V231.3 H170.9 V311.0" fill="none" stroke="#000" stroke-width="1.5"/>
<line x1="108.8" y1="311.5" x2="111.3" y2="311.5" stroke="#000" stroke-width="1.1"/>
<line x1="108.8" y1="296.9" x2="111.3" y2="296.9" stroke="#000" stroke-width="1.1"/>
<line x1="108.8" y1="282.3" x2="111.3" y2="282.3" stroke="#000" stroke-width="1.1"/>
<line x1="108.8" y1="267.6" x2="111.3" y2="267.6" stroke="#000" stroke-width="1.1"/>
<line x1="108.8" y1="253.0" x2="111.3" y2="253.0" stroke="#000" stroke-width="1.1"/>
<line x1="108.8" y1="238.4" x2="111.3" y2="238.4" stroke="#000" stroke-width="1.1"/>
<line x1="110.6" y1="311.0" x2="171.6" y2="311.0" stroke="#000" stroke-width="2"/>
<line x1="189.35" y1="244.2" x2="189.35" y2="238.8" stroke="#000" stroke-width="1.5"/>
<path d="M186.75,237.9 H191.95 L190.95,239.9 H187.75 Z" fill="#000"/>
<rect x="180.6" y="244.2" width="17.5" height="66.8" fill="#fff" stroke="#000" stroke-width="1.4"/>
<line x1="219.80" y1="269.7" x2="219.80" y2="267.2" stroke="#000" stroke-width="1.5"/>
<path d="M217.20,266.3 H222.40 L221.40,268.3 H218.20 Z" fill="#000"/>
<rect x="211.1" y="269.7" width="17.4" height="41.3" fill="#c0c0c0" stroke="#000" stroke-width="1.4"/>
<path d="M218.00,258.30L218.00,255.20M218.00,258.30L220.95,257.34M218.00,258.30L219.82,260.81M218.00,258.30L216.18,260.81M218.00,258.30L215.05,257.34" stroke="#000" stroke-width="1.0" stroke-linecap="butt" fill="none"/>
<path d="M174.0,311.0 V231.3 H234.6 V311.0" fill="none" stroke="#000" stroke-width="1.5"/>
<line x1="171.5" y1="311.5" x2="174.0" y2="311.5" stroke="#000" stroke-width="1.1"/>
<line x1="171.5" y1="296.9" x2="174.0" y2="296.9" stroke="#000" stroke-width="1.1"/>
<line x1="171.5" y1="282.3" x2="174.0" y2="282.3" stroke="#000" stroke-width="1.1"/>
<line x1="171.5" y1="267.6" x2="174.0" y2="267.6" stroke="#000" stroke-width="1.1"/>
<line x1="171.5" y1="253.0" x2="174.0" y2="253.0" stroke="#000" stroke-width="1.1"/>
<line x1="171.5" y1="238.4" x2="174.0" y2="238.4" stroke="#000" stroke-width="1.1"/>
<line x1="173.3" y1="311.0" x2="235.29999999999998" y2="311.0" stroke="#000" stroke-width="2"/>
<line x1="252.55" y1="244.2" x2="252.55" y2="239.5" stroke="#000" stroke-width="1.5"/>
<path d="M249.95,238.6 H255.15 L254.15,240.6 H250.95 Z" fill="#000"/>
<rect x="243.8" y="244.2" width="17.5" height="66.8" fill="#fff" stroke="#000" stroke-width="1.4"/>
<rect x="274.4" y="280.5" width="17.4" height="30.5" fill="#c0c0c0" stroke="#000" stroke-width="1.4"/>
<path d="M282.80,271.50L282.80,268.40M282.80,271.50L285.75,270.54M282.80,271.50L284.62,274.01M282.80,271.50L280.98,274.01M282.80,271.50L279.85,270.54" stroke="#000" stroke-width="1.0" stroke-linecap="butt" fill="none"/>
<path d="M237.3,311.0 V231.3 H298.6 V311.0" fill="none" stroke="#000" stroke-width="1.5"/>
<line x1="234.8" y1="311.5" x2="237.3" y2="311.5" stroke="#000" stroke-width="1.1"/>
<line x1="234.8" y1="296.9" x2="237.3" y2="296.9" stroke="#000" stroke-width="1.1"/>
<line x1="234.8" y1="282.3" x2="237.3" y2="282.3" stroke="#000" stroke-width="1.1"/>
<line x1="234.8" y1="267.6" x2="237.3" y2="267.6" stroke="#000" stroke-width="1.1"/>
<line x1="234.8" y1="253.0" x2="237.3" y2="253.0" stroke="#000" stroke-width="1.1"/>
<line x1="234.8" y1="238.4" x2="237.3" y2="238.4" stroke="#000" stroke-width="1.1"/>
<line x1="236.60000000000002" y1="311.0" x2="299.3" y2="311.0" stroke="#000" stroke-width="2"/>
<line x1="317.10" y1="244.9" x2="317.10" y2="239.0" stroke="#000" stroke-width="1.5"/>
<path d="M314.50,238.1 H319.70 L318.70,240.1 H315.50 Z" fill="#000"/>
<rect x="308.1" y="244.9" width="18.0" height="66.1" fill="#fff" stroke="#000" stroke-width="1.4"/>
<rect x="338.0" y="273.5" width="17.4" height="37.5" fill="#c0c0c0" stroke="#000" stroke-width="1.4"/>
<path d="M348.80,263.10L348.80,260.00M348.80,263.10L351.75,262.14M348.80,263.10L350.62,265.61M348.80,263.10L346.98,265.61M348.80,263.10L345.85,262.14" stroke="#000" stroke-width="1.0" stroke-linecap="butt" fill="none"/>
<path d="M301.5,311.0 V231.3 H362.3 V311.0" fill="none" stroke="#000" stroke-width="1.5"/>
<line x1="299.0" y1="311.5" x2="301.5" y2="311.5" stroke="#000" stroke-width="1.1"/>
<line x1="299.0" y1="296.9" x2="301.5" y2="296.9" stroke="#000" stroke-width="1.1"/>
<line x1="299.0" y1="282.3" x2="301.5" y2="282.3" stroke="#000" stroke-width="1.1"/>
<line x1="299.0" y1="267.6" x2="301.5" y2="267.6" stroke="#000" stroke-width="1.1"/>
<line x1="299.0" y1="253.0" x2="301.5" y2="253.0" stroke="#000" stroke-width="1.1"/>
<line x1="299.0" y1="238.4" x2="301.5" y2="238.4" stroke="#000" stroke-width="1.1"/>
<line x1="300.8" y1="311.0" x2="363.0" y2="311.0" stroke="#000" stroke-width="2"/>
<line x1="379.65" y1="244.9" x2="379.65" y2="239.0" stroke="#000" stroke-width="1.5"/>
<path d="M377.05,238.1 H382.25 L381.25,240.1 H378.05 Z" fill="#000"/>
<rect x="370.7" y="244.9" width="17.9" height="66.1" fill="#fff" stroke="#000" stroke-width="1.4"/>
<rect x="401.5" y="282.4" width="17.4" height="28.6" fill="#c0c0c0" stroke="#000" stroke-width="1.4"/>
<path d="M411.20,271.70L411.20,268.60M411.20,271.70L414.15,270.74M411.20,271.70L413.02,274.21M411.20,271.70L409.38,274.21M411.20,271.70L408.25,270.74" stroke="#000" stroke-width="1.0" stroke-linecap="butt" fill="none"/>
<path d="M365.0,311.0 V231.3 H425.9 V311.0" fill="none" stroke="#000" stroke-width="1.5"/>
<line x1="362.5" y1="311.5" x2="365.0" y2="311.5" stroke="#000" stroke-width="1.1"/>
<line x1="362.5" y1="296.9" x2="365.0" y2="296.9" stroke="#000" stroke-width="1.1"/>
<line x1="362.5" y1="282.3" x2="365.0" y2="282.3" stroke="#000" stroke-width="1.1"/>
<line x1="362.5" y1="267.6" x2="365.0" y2="267.6" stroke="#000" stroke-width="1.1"/>
<line x1="362.5" y1="253.0" x2="365.0" y2="253.0" stroke="#000" stroke-width="1.1"/>
<line x1="362.5" y1="238.4" x2="365.0" y2="238.4" stroke="#000" stroke-width="1.1"/>
<line x1="364.3" y1="311.0" x2="426.59999999999997" y2="311.0" stroke="#000" stroke-width="2"/>
<rect x="110.5" y="310.3" width="315.5" height="1.4" fill="#000"/>
<rect x="110.5" y="310.6" width="60.6" height="4" fill="#000"/>
<text x="107.7" y="313.8" font-size="7.5" font-weight="bold" text-anchor="end" fill="#111" stroke="#111" stroke-width="0.35" textLength="3.7" lengthAdjust="spacingAndGlyphs">0</text>
<text x="109.2" y="299.2" font-size="7.5" font-weight="bold" text-anchor="end" fill="#111" stroke="#111" stroke-width="0.35" textLength="7.4" lengthAdjust="spacingAndGlyphs">20</text>
<text x="109.2" y="284.6" font-size="7.5" font-weight="bold" text-anchor="end" fill="#111" stroke="#111" stroke-width="0.35" textLength="7.4" lengthAdjust="spacingAndGlyphs">40</text>
<text x="109.2" y="269.9" font-size="7.5" font-weight="bold" text-anchor="end" fill="#111" stroke="#111" stroke-width="0.35" textLength="7.4" lengthAdjust="spacingAndGlyphs">60</text>
<text x="109.2" y="255.3" font-size="7.5" font-weight="bold" text-anchor="end" fill="#111" stroke="#111" stroke-width="0.35" textLength="7.4" lengthAdjust="spacingAndGlyphs">80</text>
<text x="109.2" y="240.7" font-size="7.5" font-weight="bold" text-anchor="end" fill="#111" stroke="#111" stroke-width="0.35" textLength="11.1" lengthAdjust="spacingAndGlyphs">100</text>
<text transform="translate(94.3,275.0) rotate(-90)" font-size="11.4" font-weight="bold" text-anchor="middle" textLength="66" lengthAdjust="spacingAndGlyphs">% of baseline</text>
<line x1="126.10" y1="328.5" x2="126.10" y2="322.7" stroke="#000" stroke-width="1.5"/>
<path d="M123.50,321.8 H128.70 L127.70,323.8 H124.50 Z" fill="#000"/>
<rect x="117.6" y="328.5" width="17.0" height="64.7" fill="#fff" stroke="#000" stroke-width="1.4"/>
<line x1="156.20" y1="369.0" x2="156.20" y2="364.4" stroke="#000" stroke-width="1.5"/>
<path d="M153.60,363.5 H158.80 L157.80,365.5 H154.60 Z" fill="#000"/>
<rect x="147.5" y="369.0" width="17.4" height="24.2" fill="#000" stroke="#000" stroke-width="1.4"/>
<path d="M152.20,355.30L152.20,352.20M152.20,355.30L155.15,354.34M152.20,355.30L154.02,357.81M152.20,355.30L150.38,357.81M152.20,355.30L149.25,354.34" stroke="#000" stroke-width="1.0" stroke-linecap="butt" fill="none"/>
<path d="M111.3,393.2 V313.2 H170.9 V393.2" fill="none" stroke="#000" stroke-width="1.5"/>
<line x1="110.6" y1="313.3" x2="171.6" y2="313.3" stroke="#000" stroke-width="1.9"/>
<line x1="108.8" y1="393.5" x2="111.3" y2="393.5" stroke="#000" stroke-width="1.1"/>
<line x1="108.8" y1="373.9" x2="111.3" y2="373.9" stroke="#000" stroke-width="1.1"/>
<line x1="108.8" y1="354.3" x2="111.3" y2="354.3" stroke="#000" stroke-width="1.1"/>
<line x1="108.8" y1="334.6" x2="111.3" y2="334.6" stroke="#000" stroke-width="1.1"/>
<line x1="108.8" y1="315.0" x2="111.3" y2="315.0" stroke="#000" stroke-width="1.1"/>
<line x1="110.6" y1="393.2" x2="171.6" y2="393.2" stroke="#000" stroke-width="2"/>
<line x1="189.35" y1="326.5" x2="189.35" y2="317.7" stroke="#000" stroke-width="1.5"/>
<path d="M186.75,316.8 H191.95 L190.95,318.8 H187.75 Z" fill="#000"/>
<rect x="180.6" y="326.5" width="17.5" height="66.7" fill="#fff" stroke="#000" stroke-width="1.4"/>
<line x1="219.80" y1="373.6" x2="219.80" y2="365.7" stroke="#000" stroke-width="1.5"/>
<path d="M217.20,364.8 H222.40 L221.40,366.8 H218.20 Z" fill="#000"/>
<rect x="211.1" y="373.6" width="17.4" height="19.6" fill="#000" stroke="#000" stroke-width="1.4"/>
<path d="M221.30,356.00L221.30,352.90M221.30,356.00L224.25,355.04M221.30,356.00L223.12,358.51M221.30,356.00L219.48,358.51M221.30,356.00L218.35,355.04" stroke="#000" stroke-width="1.0" stroke-linecap="butt" fill="none"/>
<path d="M174.0,393.2 V313.2 H234.6 V393.2" fill="none" stroke="#000" stroke-width="1.5"/>
<line x1="173.3" y1="313.3" x2="235.29999999999998" y2="313.3" stroke="#000" stroke-width="1.9"/>
<line x1="171.5" y1="393.5" x2="174.0" y2="393.5" stroke="#000" stroke-width="1.1"/>
<line x1="171.5" y1="373.9" x2="174.0" y2="373.9" stroke="#000" stroke-width="1.1"/>
<line x1="171.5" y1="354.3" x2="174.0" y2="354.3" stroke="#000" stroke-width="1.1"/>
<line x1="171.5" y1="334.6" x2="174.0" y2="334.6" stroke="#000" stroke-width="1.1"/>
<line x1="171.5" y1="315.0" x2="174.0" y2="315.0" stroke="#000" stroke-width="1.1"/>
<line x1="173.3" y1="393.2" x2="235.29999999999998" y2="393.2" stroke="#000" stroke-width="2"/>
<line x1="252.55" y1="326.5" x2="252.55" y2="320.4" stroke="#000" stroke-width="1.5"/>
<path d="M249.95,319.5 H255.15 L254.15,321.5 H250.95 Z" fill="#000"/>
<rect x="243.8" y="326.5" width="17.5" height="66.7" fill="#fff" stroke="#000" stroke-width="1.4"/>
<line x1="283.10" y1="379.8" x2="283.10" y2="377.2" stroke="#000" stroke-width="1.5"/>
<path d="M280.50,376.3 H285.70 L284.70,378.3 H281.50 Z" fill="#000"/>
<rect x="274.4" y="379.8" width="17.4" height="13.4" fill="#000" stroke="#000" stroke-width="1.4"/>
<path d="M284.50,369.40L284.50,366.30M284.50,369.40L287.45,368.44M284.50,369.40L286.32,371.91M284.50,369.40L282.68,371.91M284.50,369.40L281.55,368.44" stroke="#000" stroke-width="1.0" stroke-linecap="butt" fill="none"/>
<path d="M237.3,393.2 V313.2 H298.6 V393.2" fill="none" stroke="#000" stroke-width="1.5"/>
<line x1="236.60000000000002" y1="313.3" x2="299.3" y2="313.3" stroke="#000" stroke-width="1.9"/>
<line x1="234.8" y1="393.5" x2="237.3" y2="393.5" stroke="#000" stroke-width="1.1"/>
<line x1="234.8" y1="373.9" x2="237.3" y2="373.9" stroke="#000" stroke-width="1.1"/>
<line x1="234.8" y1="354.3" x2="237.3" y2="354.3" stroke="#000" stroke-width="1.1"/>
<line x1="234.8" y1="334.6" x2="237.3" y2="334.6" stroke="#000" stroke-width="1.1"/>
<line x1="234.8" y1="315.0" x2="237.3" y2="315.0" stroke="#000" stroke-width="1.1"/>
<line x1="236.60000000000002" y1="393.2" x2="299.3" y2="393.2" stroke="#000" stroke-width="2"/>
<line x1="317.10" y1="326.2" x2="317.10" y2="317.0" stroke="#000" stroke-width="1.5"/>
<path d="M314.50,316.1 H319.70 L318.70,318.1 H315.50 Z" fill="#000"/>
<rect x="308.1" y="326.2" width="18.0" height="67.0" fill="#fff" stroke="#000" stroke-width="1.4"/>
<line x1="346.70" y1="360.2" x2="346.70" y2="354.2" stroke="#000" stroke-width="1.5"/>
<path d="M344.10,353.3 H349.30 L348.30,355.3 H345.10 Z" fill="#000"/>
<rect x="338.0" y="360.2" width="17.4" height="33.0" fill="#000" stroke="#000" stroke-width="1.4"/>
<path d="M348.80,346.30L348.80,343.20M348.80,346.30L351.75,345.34M348.80,346.30L350.62,348.81M348.80,346.30L346.98,348.81M348.80,346.30L345.85,345.34" stroke="#000" stroke-width="1.0" stroke-linecap="butt" fill="none"/>
<path d="M301.5,393.2 V313.2 H362.3 V393.2" fill="none" stroke="#000" stroke-width="1.5"/>
<line x1="300.8" y1="313.3" x2="363.0" y2="313.3" stroke="#000" stroke-width="1.9"/>
<line x1="299.0" y1="393.5" x2="301.5" y2="393.5" stroke="#000" stroke-width="1.1"/>
<line x1="299.0" y1="373.9" x2="301.5" y2="373.9" stroke="#000" stroke-width="1.1"/>
<line x1="299.0" y1="354.3" x2="301.5" y2="354.3" stroke="#000" stroke-width="1.1"/>
<line x1="299.0" y1="334.6" x2="301.5" y2="334.6" stroke="#000" stroke-width="1.1"/>
<line x1="299.0" y1="315.0" x2="301.5" y2="315.0" stroke="#000" stroke-width="1.1"/>
<line x1="300.8" y1="393.2" x2="363.0" y2="393.2" stroke="#000" stroke-width="2"/>
<line x1="379.65" y1="326.0" x2="379.65" y2="315.8" stroke="#000" stroke-width="1.5"/>
<path d="M377.05,314.90000000000003 H382.25 L381.25,316.90000000000003 H378.05 Z" fill="#000"/>
<rect x="370.7" y="326.0" width="17.9" height="67.2" fill="#fff" stroke="#000" stroke-width="1.4"/>
<line x1="410.20" y1="376.8" x2="410.20" y2="372.0" stroke="#000" stroke-width="1.5"/>
<path d="M407.60,371.1 H412.80 L411.80,373.1 H408.60 Z" fill="#000"/>
<rect x="401.5" y="376.8" width="17.4" height="16.4" fill="#000" stroke="#000" stroke-width="1.4"/>
<path d="M414.60,364.80L414.60,361.70M414.60,364.80L417.55,363.84M414.60,364.80L416.42,367.31M414.60,364.80L412.78,367.31M414.60,364.80L411.65,363.84" stroke="#000" stroke-width="1.0" stroke-linecap="butt" fill="none"/>
<path d="M365.0,393.2 V313.2 H425.9 V393.2" fill="none" stroke="#000" stroke-width="1.5"/>
<line x1="364.3" y1="313.3" x2="426.59999999999997" y2="313.3" stroke="#000" stroke-width="1.9"/>
<line x1="362.5" y1="393.5" x2="365.0" y2="393.5" stroke="#000" stroke-width="1.1"/>
<line x1="362.5" y1="373.9" x2="365.0" y2="373.9" stroke="#000" stroke-width="1.1"/>
<line x1="362.5" y1="354.3" x2="365.0" y2="354.3" stroke="#000" stroke-width="1.1"/>
<line x1="362.5" y1="334.6" x2="365.0" y2="334.6" stroke="#000" stroke-width="1.1"/>
<line x1="362.5" y1="315.0" x2="365.0" y2="315.0" stroke="#000" stroke-width="1.1"/>
<line x1="364.3" y1="393.2" x2="426.59999999999997" y2="393.2" stroke="#000" stroke-width="2"/>
<line x1="443.85" y1="326.5" x2="443.85" y2="318.8" stroke="#000" stroke-width="1.5"/>
<path d="M441.25,317.90000000000003 H446.45 L445.45,319.90000000000003 H442.25 Z" fill="#000"/>
<rect x="435.1" y="326.5" width="17.5" height="66.7" fill="#fff" stroke="#000" stroke-width="1.4"/>
<line x1="474.30" y1="350.2" x2="474.30" y2="343.4" stroke="#000" stroke-width="1.5"/>
<path d="M471.70,342.5 H476.90 L475.90,344.5 H472.70 Z" fill="#000"/>
<rect x="465.6" y="350.2" width="17.4" height="43.0" fill="#000" stroke="#000" stroke-width="1.4"/>
<path d="M477.90,337.40L477.90,334.30M477.90,337.40L480.85,336.44M477.90,337.40L479.72,339.91M477.90,337.40L476.08,339.91M477.90,337.40L474.95,336.44" stroke="#000" stroke-width="1.0" stroke-linecap="butt" fill="none"/>
<path d="M428.4,393.2 V313.2 H489.8 V393.2" fill="none" stroke="#000" stroke-width="1.5"/>
<line x1="427.7" y1="313.3" x2="490.5" y2="313.3" stroke="#000" stroke-width="1.9"/>
<line x1="425.9" y1="393.5" x2="428.4" y2="393.5" stroke="#000" stroke-width="1.1"/>
<line x1="425.9" y1="373.9" x2="428.4" y2="373.9" stroke="#000" stroke-width="1.1"/>
<line x1="425.9" y1="354.3" x2="428.4" y2="354.3" stroke="#000" stroke-width="1.1"/>
<line x1="425.9" y1="334.6" x2="428.4" y2="334.6" stroke="#000" stroke-width="1.1"/>
<line x1="425.9" y1="315.0" x2="428.4" y2="315.0" stroke="#000" stroke-width="1.1"/>
<line x1="427.7" y1="393.2" x2="490.5" y2="393.2" stroke="#000" stroke-width="2"/>
<text x="107.1" y="397.1" font-size="8" text-anchor="end" fill="#222" stroke="#222" stroke-width="0.15" textLength="3.6" lengthAdjust="spacingAndGlyphs">0</text>
<text x="105.3" y="376.2" font-size="7.5" font-weight="bold" text-anchor="end" fill="#111" stroke="#111" stroke-width="0.35" textLength="6.5" lengthAdjust="spacingAndGlyphs">30</text>
<text x="105.3" y="356.6" font-size="7.5" font-weight="bold" text-anchor="end" fill="#111" stroke="#111" stroke-width="0.35" textLength="6.5" lengthAdjust="spacingAndGlyphs">60</text>
<text x="105.3" y="336.9" font-size="7.5" font-weight="bold" text-anchor="end" fill="#111" stroke="#111" stroke-width="0.35" textLength="6.5" lengthAdjust="spacingAndGlyphs">90</text>
<text x="105.3" y="317.3" font-size="7.5" font-weight="bold" text-anchor="end" fill="#111" stroke="#111" stroke-width="0.35" textLength="9.8" lengthAdjust="spacingAndGlyphs">120</text>
<text transform="translate(94.3,357.3) rotate(-90)" font-size="11.4" font-weight="bold" text-anchor="middle" textLength="66" lengthAdjust="spacingAndGlyphs">% of baseline</text>
<rect x="436.7" y="249.0" width="9.2" height="8.4" fill="#fff" stroke="#000" stroke-width="1.7"/>
<text x="450" y="255.5" font-size="9.2" fill="#222" stroke="#222" stroke-width="0.15" textLength="24.8" lengthAdjust="spacingAndGlyphs">control</text>
<rect x="436.7" y="261.6" width="9.2" height="8.4" fill="#000" stroke="#000" stroke-width="1.7"/>
<text x="450" y="269" font-size="9.2" fill="#222" stroke="#222" stroke-width="0.15" textLength="23.8" lengthAdjust="spacingAndGlyphs">α-BR3</text>
<rect x="436.7" y="275.90000000000003" width="9.2" height="8.4" fill="#bdbdbd" stroke="#000" stroke-width="1.7"/>
<text x="450" y="283.5" font-size="9.2" fill="#222" stroke="#222" stroke-width="0.15" textLength="29.5" lengthAdjust="spacingAndGlyphs">BR3-Fc</text>
<rect x="436.7" y="288.3" width="9.2" height="8.4" fill="#000" stroke="#000" stroke-width="1.7"/>
<line x1="438.2" y1="293.8" x2="442.6" y2="289.4" stroke="#fff" stroke-width="1.5"/>
<line x1="440.4" y1="295.8" x2="444.9" y2="291.3" stroke="#fff" stroke-width="1.5"/>
<text x="450" y="295.2" font-size="9.2" fill="#222" stroke="#222" stroke-width="0.15" textLength="30.9" lengthAdjust="spacingAndGlyphs">α-CD20</text>
</svg>
</body></html>
